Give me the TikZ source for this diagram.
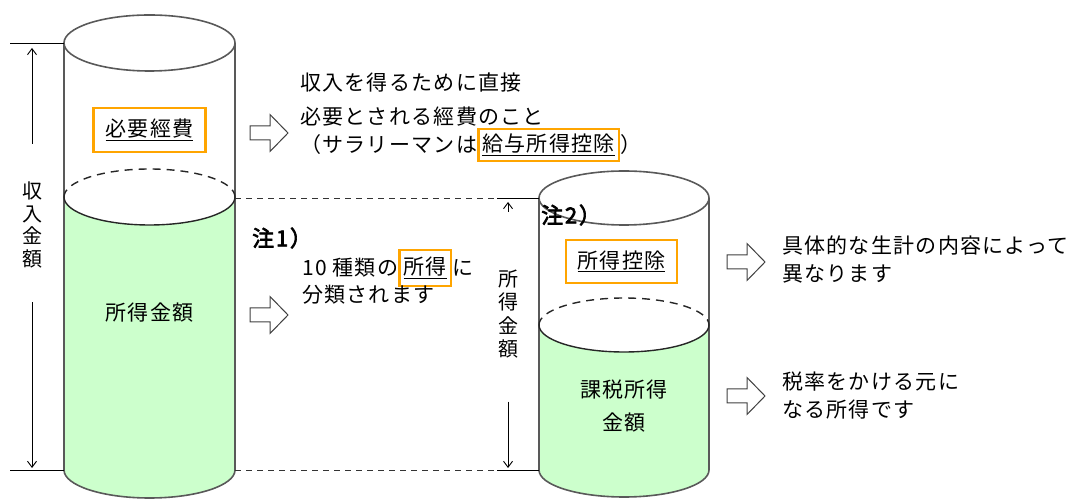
\documentclass[tikz,border=0pt]{standalone}
\usepackage{fontspec}
\setmainfont{Noto Sans CJK JP}[LetterSpace=6]
\newfontfamily\notefont{Noto Sans CJK JP}[FakeBold=3, LetterSpace=8]
\usetikzlibrary{arrows.meta,positioning,calc}

\definecolor{liquid}{HTML}{CCFFCC}
\definecolor{hiorange}{HTML}{FFA500}

\tikzset{
  tankline/.style={draw=black!65, line width=1.6pt},
  surface/.style={draw=black!85, line width=1.4pt},
  hilite/.style={draw=hiorange, line width=2.5pt, inner xsep=4pt, inner ysep=0pt},
  txt/.style={anchor=west, inner sep=0pt, font=\fontsize{21}{31}\selectfont},
  vtxt/.style={inner sep=0pt, align=center, font=\fontsize{20}{22.5}\selectfont},
  note/.style={anchor=west, inner sep=0pt, font=\notefont\fontsize{22}{26}\selectfont},
  blockarrow/.pic={
    \draw[draw=black!75, fill=white, line width=1pt, line join=miter]
      (-19,7) -- (1,7) -- (1,18.5) -- (19,0) -- (1,-18.5) -- (1,-7) -- (-19,-7) -- cycle;
  },
  dim/.style={line width=0.9pt},
  dimarrow/.style={dim, -{Straight Barb[length=6pt,width=9pt]}},
  guide/.style={dim, draw=black!80, dash pattern=on 6pt off 5pt},
}

\begin{document}
\begin{tikzpicture}[x=1pt,y=1pt]
\useasboundingbox (0,0) rectangle (1083,500);

    % two tanks: centre x / radii / top, level, bottom
    \foreach \cx/\rx/\ry/\yt/\yl/\yb in {149.5/85.5/28/457/303/30, 624/85/27/302/175/30}{
        \fill[liquid] (\cx-\rx,\yl) -- (\cx-\rx,\yb) arc[start angle=180,end angle=360,x radius=\rx,y radius=\ry] -- (\cx+\rx,\yl) arc[start angle=360,end angle=180,x radius=\rx,y radius=\ry] -- cycle;
        \draw[tankline] (\cx-\rx,\yt) -- (\cx-\rx,\yb) arc[start angle=180,end angle=360,x radius=\rx,y radius=\ry] -- (\cx+\rx,\yt);
        \draw[tankline] (\cx,\yt) ellipse [x radius=\rx, y radius=\ry];
        \draw[surface] (\cx-\rx,\yl) arc[start angle=180,end angle=360,x radius=\rx,y radius=\ry];
        \draw[surface, dash pattern=on 8pt off 6pt] (\cx-\rx,\yl) arc[start angle=180,end angle=0,x radius=\rx,y radius=\ry];
    }

    \coordinate (inc-top) at (64,457);
    \coordinate (inc-top-end) at (10,457);
    \coordinate (inc-bot) at (64,30);
    \coordinate (inc-bot-end) at (10,30);
    \coordinate (lvl) at (235,302);
    \coordinate (lvl-m) at (497,302);
    \coordinate (lvl-r) at (539,302);
    \coordinate (base) at (235,30);
    \coordinate (base-m) at (497,30);
    \coordinate (base-r) at (539,30);

    % dimension lines
    \draw[dim] (inc-top) -- (inc-top-end);
    \draw[dim] (inc-bot) -- (inc-bot-end);
    \node[vtxt] (inc-label) at (32,275) {収\\入\\金\\額};
    \draw[dimarrow, shorten >=5pt] ($(inc-label.north)+(0,38)$) -- (inc-label.north |- inc-top);
    \draw[dimarrow, shorten >=2pt] ($(inc-label.south)+(0,-34)$) -- (inc-label.south |- inc-bot);

    \draw[guide] (lvl) -- (lvl-m);
    \draw[dim] (lvl-m) -- (lvl-r);
    \draw[guide] (base) -- (base-m);
    \draw[dim] (base-m) -- (base-r);
    \node[vtxt, font=\fontsize{20}{23.5}\selectfont] (net-label) at (508,186) {所\\得\\金\\額};
    \draw[dimarrow, shorten >=4pt] ($(net-label.north |- lvl)+(0,-14)$) -- (net-label.north |- lvl);
    \draw[dimarrow, shorten >=2pt] ($(net-label.south)+(0,-43)$) -- (net-label.south |- base);

    % labels in the tanks
    \node[hilite, minimum width=112pt, minimum height=44pt, font=\fontsize{21}{31}\selectfont] (expense) at (149.5,370) {\underline{必要經費}};
    \node[inner sep=0pt, font=\fontsize{21}{31}\selectfont] (income) at (149.5,187) {所得金額};
    \node[hilite, minimum width=111pt, minimum height=43pt, font=\fontsize{21}{31}\selectfont] (deduct) at (621.5,238.5) {\underline{所得控除}};
    \node[inner sep=0pt, align=center, font=\fontsize{21}{33}\selectfont] (taxable) at (624,93.5) {課税所得\\金額};
    \node[note] (note2) at (541,285) {注2）};

    % block arrows
    \pic (arr1) at (269,367) {blockarrow};
    \pic (arr2) at (269,185) {blockarrow};
    \pic (arr3) at (746,238) {blockarrow};
    \pic (arr4) at (746,104) {blockarrow};

    % notes
    \node[txt] (exp1) at (300,417) {収入を得るために直接};
    \node[txt] (exp2) at (300,383) {必要とされる經費のこと};
    \node[txt] (exp3) at (300,355) {（サラリーマンは};
    \node[hilite, anchor=west, minimum height=32pt, font=\fontsize{21}{31}\selectfont] (salary) at (exp3.east) {\underline{給与所得控除}};
    \node[txt] (exp3b) at (salary.east) {）};

    \node[note] (note1) at (252,262) {注1）};
    \node[txt] (cls1) at (302,232) {10 種類の};
    \node[hilite, anchor=west, minimum height=36pt, font=\fontsize{21}{31}\selectfont] (kinds) at (cls1.east) {\underline{所得}};
    \node[txt] (cls1b) at (kinds.east) {に};
    \node[txt] (cls2) at (302,205) {分類されます};

    \node[txt] (ded1) at (782,254) {具体的な生計の内容によって};
    \node[txt] (ded2) at (782,226) {異なります};
    \node[txt] (tax1) at (782,118) {税率をかける元に};
    \node[txt] (tax2) at (782,90) {なる所得です};
\end{tikzpicture}
\end{document}
